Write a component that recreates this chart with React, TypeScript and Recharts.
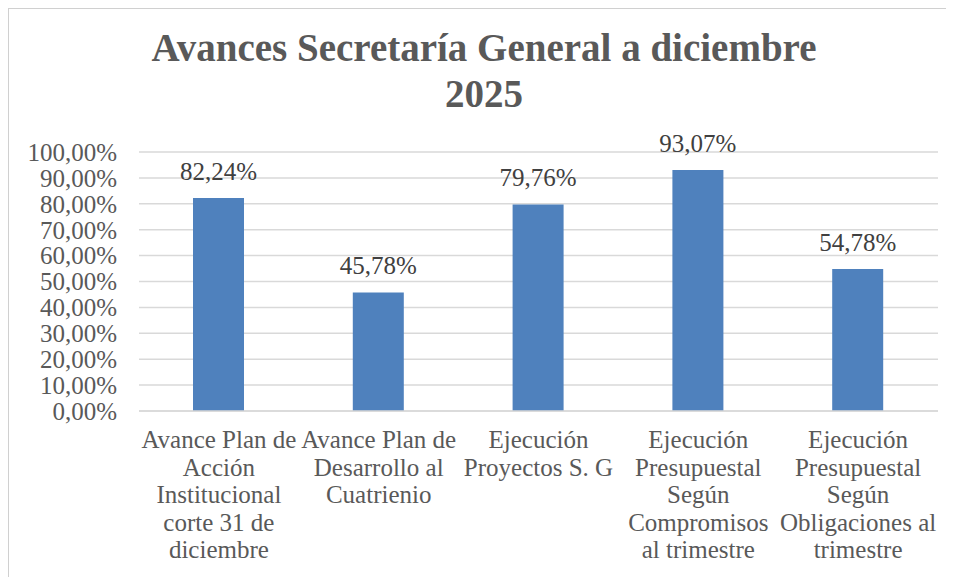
import { Bar, BarChart, CartesianGrid, LabelList, XAxis, YAxis } from 'recharts'

// Avance por frente de trabajo, corte diciembre 2025 (fracción de 1).
const categories = [
  'Avance Plan de\nAcción\nInstitucional\ncorte 31 de\ndiciembre',
  'Avance Plan de\nDesarrollo al\nCuatrienio',
  'Ejecución\nProyectos S. G',
  'Ejecución\nPresupuestal\nSegún\nCompromisos\nal trimestre',
  'Ejecución\nPresupuestal\nSegún\nObligaciones al\ntrimestre',
]
const avance = [0.8224, 0.4578, 0.7976, 0.9307, 0.5478]
const yTicks = [0, 0.1, 0.2, 0.3, 0.4, 0.5, 0.6, 0.7, 0.8, 0.9, 1]

const data = categories.map((name, i) => ({ name, avance: avance[i] }))

const FONT = '"Liberation Serif", serif'
const pct = (v: number) => (v * 100).toFixed(2).replace('.', ',') + '%'

function CategoryTick({ x, y, payload }: { x?: number; y?: number; payload?: { value: string } }) {
  const lines = String(payload?.value ?? '').split('\n')
  return (
    <text x={x} y={(y ?? 0) + 29} textAnchor="middle" fill="#595959" fontSize={25} fontFamily={FONT}>
      {lines.map((line, i) => (
        <tspan key={i} x={x} dy={i === 0 ? 0 : 27.5}>
          {line}
        </tspan>
      ))}
    </text>
  )
}

export default function App() {
  return (
    <div style={{ position: 'relative', width: 946, height: 569, overflow: 'hidden', borderTop: '1px solid #d0d0d0', borderLeft: '1px solid #d0d0d0', boxSizing: 'border-box' }}>
      <div
        style={{
          position: 'absolute',
          left: 0,
          top: 16,
          width: 950,
          textAlign: 'center',
          fontFamily: FONT,
          fontWeight: 'bold',
          fontSize: 39,
          lineHeight: '46px',
          color: '#595959',
        }}
      >
        Avances Secretaría General a diciembre
        <br />
        2025
      </div>
      <BarChart
        width={946}
        height={569}
        data={data}
        margin={{ top: 144, right: 16, bottom: 6, left: -1 }}
        style={{ position: 'absolute', left: -1, top: -1 }}
      >
        <CartesianGrid vertical={false} stroke="#d9d9d9" strokeWidth={1.5} />
        <YAxis
          type="number"
          domain={[0, 1]}
          ticks={yTicks}
          tickFormatter={pct}
          width={132}
          axisLine={false}
          tickLine={false}
          tickMargin={16}
          interval={0}
          tick={{ fill: '#595959', fontSize: 25, fontFamily: FONT }}
        />
        <XAxis
          dataKey="name"
          height={160}
          interval={0}
          axisLine={{ stroke: '#d9d9d9', strokeWidth: 1.5 }}
          tickLine={false}
          tick={<CategoryTick />}
        />
        <Bar dataKey="avance" fill="#4f81bd" barSize={51} isAnimationActive={false}>
          <LabelList
            dataKey="avance"
            position="top"
            offset={18}
            formatter={(v: number) => pct(v)}
            fill="#404040"
            fontSize={25}
            fontFamily={FONT}
          />
        </Bar>
      </BarChart>
    </div>
  )
}
